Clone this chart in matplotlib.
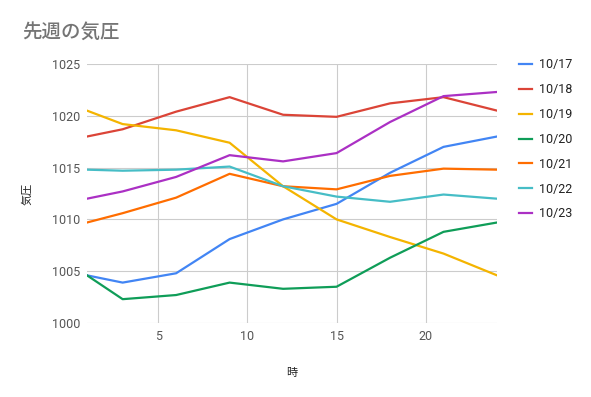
import matplotlib
matplotlib.use("Agg")
import matplotlib.pyplot as plt

plt.rcParams['font.family'] = ['Roboto', 'Noto Sans CJK JP', 'DejaVu Sans']

# 時刻 (x) と各日の気圧
hours = [1, 3, 6, 9, 12, 15, 18, 21, 24]
labels = ['10/17', '10/18', '10/19', '10/20', '10/21', '10/22', '10/23']
p1017 = [1004.6, 1003.9, 1004.8, 1008.1, 1010.0, 1011.5, 1014.5, 1017.0, 1018.0]
p1018 = [1018.0, 1018.7, 1020.4, 1021.8, 1020.1, 1019.9, 1021.2, 1021.8, 1020.5]
p1019 = [1020.5, 1019.2, 1018.6, 1017.4, 1013.2, 1010.0, 1008.3, 1006.7, 1004.6]
p1020 = [1004.6, 1002.3, 1002.7, 1003.9, 1003.3, 1003.5, 1006.3, 1008.8, 1009.7]
p1021 = [1009.7, 1010.6, 1012.1, 1014.4, 1013.2, 1012.9, 1014.2, 1014.9, 1014.8]
p1022 = [1014.8, 1014.7, 1014.8, 1015.1, 1013.2, 1012.2, 1011.7, 1012.4, 1012.0]
p1023 = [1012.0, 1012.7, 1014.1, 1016.2, 1015.6, 1016.4, 1019.4, 1021.9, 1022.3]
series = [p1017, p1018, p1019, p1020, p1021, p1022, p1023]
colors = ['#4285F4', '#DB4437', '#F4B400', '#0F9D58', '#FF6D00', '#46BDC6', '#AB30C4']

fig = plt.figure(figsize=(5.91, 3.97), dpi=100)
ax = fig.add_axes([87/591, 1-323/397, (497-87)/591, (323-64)/397])

for vals, lab, c in zip(series, labels, colors):
    ax.plot(hours, vals, color=c, lw=1.6, label=lab)

ax.set_xlim(1, 24)
ax.set_ylim(1000, 1025)
ax.set_xticks([5, 10, 15, 20])
ax.set_yticks([1000, 1005, 1010, 1015, 1020, 1025])
ax.grid(True, color='#cccccc', lw=0.8)
ax.set_axisbelow(True)
for s in ax.spines.values():
    s.set_visible(False)
ax.tick_params(length=0, labelsize=9, labelcolor='#555555', pad=5)

ax.set_xlabel('時', family=['Noto Sans CJK JP'], fontsize=8, color='#222222', labelpad=18)
ax.set_ylabel('気圧', family=['Noto Sans CJK JP'], fontsize=8, color='#222222', labelpad=14)

fig.text(22/591, 1-32/397, '先週の気圧', family=['Noto Sans CJK JP'], fontsize=14,
         fontweight='medium', color='#757575', va='center')

fig.legend(loc='upper left', bbox_to_anchor=(508/591, 1-47/397), frameon=False,
           fontsize=9, labelcolor='#222222', handlelength=1.0, handletextpad=0.6,
           labelspacing=0.95)

fig.savefig('out.png', dpi=100)
